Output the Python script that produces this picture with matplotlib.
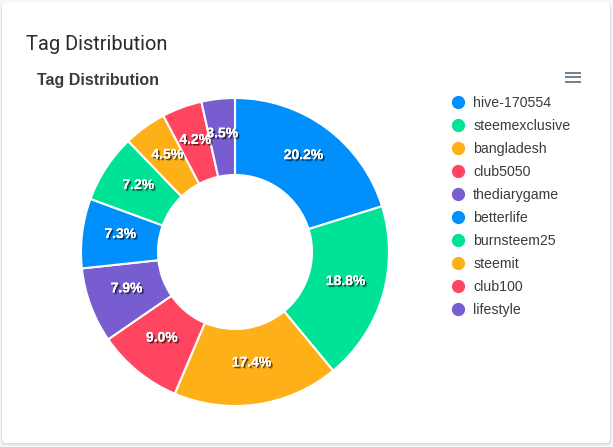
import matplotlib
matplotlib.use('Agg')
import matplotlib.pyplot as plt
import matplotlib.patheffects as pe
from matplotlib.lines import Line2D
from matplotlib.patches import FancyBboxPatch

tags = ['hive-170554', 'steemexclusive', 'bangladesh', 'club5050', 'thediarygame',
        'betterlife', 'burnsteem25', 'steemit', 'club100', 'lifestyle']
shares = [20.2, 18.8, 17.4, 9.0, 7.9, 7.3, 7.2, 4.5, 4.2, 3.5]
palette = ['#008FFB', '#00E396', '#FEB019', '#FF4560', '#775DD0'] * 2

W, H = 613, 447


def px_axes(fig, left, top, width, height):
    # axes box given in pixels from the top left corner
    return fig.add_axes([left / W, 1 - (top + height) / H, width / W, height / H])


fig = plt.figure(figsize=(W / 100, H / 100), dpi=100, facecolor='#f8f8f8')

# card in the background, in pixel coordinates
bg = fig.add_axes([0, 0, 1, 1])
bg.set_xlim(0, W)
bg.set_ylim(H, 0)
bg.axis('off')
for grow, alpha in [(1.5, 0.03), (1, 0.04), (0.5, 0.05)]:
    bg.add_patch(FancyBboxPatch((2 - grow, 4), 608 + 2 * grow, 439 + 2 * grow,
                                boxstyle='round,pad=0,rounding_size=4',
                                fc='#000000', ec='none', alpha=alpha))
bg.add_patch(FancyBboxPatch((2, 3), 608, 440, boxstyle='round,pad=0,rounding_size=4',
                            fc='white', ec='none'))

bg.text(26, 44.5, 'Tag Distribution', family='Roboto', fontsize=14.4,
        color='#2b2b2b', va='center', ha='left')
bg.text(37, 80.5, 'Tag Distribution', family='Liberation Sans', fontsize=11.5,
        fontweight='bold', color='#373d3f', va='center', ha='left')

# menu icon
for y in [72.5, 77, 81.5]:
    bg.plot([565, 581], [y, y], color='#6e8192', lw=1.4, solid_capstyle='butt')

# donut
ax = px_axes(fig, 81, 98, 308, 308)
ax.set_zorder(2)
wedges, _, autotexts = ax.pie(shares, colors=palette, startangle=90, counterclock=False,
                              radius=1.0, autopct='%.1f%%', pctdistance=0.75,
                              wedgeprops=dict(width=0.5, edgecolor='white', linewidth=1.5),
                              textprops=dict(family='Liberation Sans', fontsize=10,
                                             fontweight='bold', color='white'))
ax.set_xlim(-1, 1)
ax.set_ylim(-1, 1)
for t in autotexts:
    # labels sit a little above the ring centre line
    t.set_y(t.get_position()[1] + 0.025)
    t.set_path_effects([pe.withSimplePatchShadow(offset=(1.6, -1.6), shadow_rgbFace='black', alpha=0.25),
                        pe.withSimplePatchShadow(offset=(1, -1), shadow_rgbFace='black', alpha=0.55),
                        pe.Normal()])

# legend
handles = [Line2D([], [], linestyle='none', marker='o', markersize=8.5, color=c) for c in palette]
leg = fig.legend(handles, tags, loc='upper left', bbox_to_anchor=(447 / W, 1 - 96 / H),
                 frameon=False, borderpad=0, borderaxespad=0, labelspacing=0.635,
                 handletextpad=0.25, handlelength=1.6,
                 prop=dict(family='Liberation Sans', size=10.2))
for t in leg.get_texts():
    t.set_color('#373d3f')

fig.savefig('out.png', dpi=100, facecolor=fig.get_facecolor())
